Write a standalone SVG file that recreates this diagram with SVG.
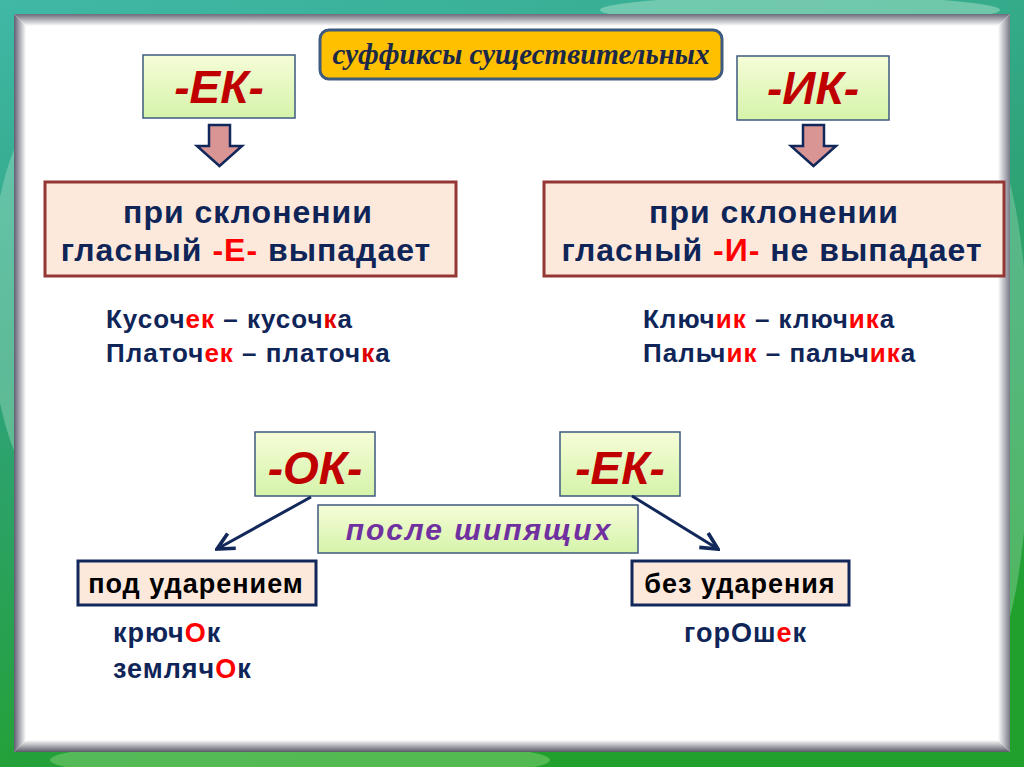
<svg xmlns="http://www.w3.org/2000/svg" width="1024" height="767" viewBox="0 0 1024 767">
<defs>
<linearGradient id="bg" x1="0" y1="0" x2="0.3" y2="1">
<stop offset="0" stop-color="#3fb8a6"/>
<stop offset="0.45" stop-color="#2fa37a"/>
<stop offset="1" stop-color="#22a02e"/>
</linearGradient>
<linearGradient id="green" x1="0" y1="0" x2="0" y2="1">
<stop offset="0" stop-color="#f6fdd8"/>
<stop offset="1" stop-color="#d5f3aa"/>
</linearGradient>
<linearGradient id="fT" x1="0" y1="0" x2="0" y2="1"><stop offset="0" stop-color="#6a6a7a"/><stop offset="1" stop-color="#ffffff"/></linearGradient>
<linearGradient id="fL" x1="0" y1="0" x2="1" y2="0"><stop offset="0" stop-color="#5f5f72"/><stop offset="1" stop-color="#ffffff"/></linearGradient>
<linearGradient id="fR" x1="1" y1="0" x2="0" y2="0"><stop offset="0" stop-color="#7a7a88"/><stop offset="1" stop-color="#ffffff"/></linearGradient>
<linearGradient id="fB" x1="0" y1="1" x2="0" y2="0"><stop offset="0" stop-color="#5a5a68"/><stop offset="1" stop-color="#ffffff"/></linearGradient>
<marker id="ah" viewBox="0 0 20 20" refX="18" refY="10" markerWidth="7" markerHeight="7" orient="auto" markerUnits="strokeWidth">
<path d="M2,2 L18,10 L2,18" fill="none" stroke="#12275a" stroke-width="3.5"/>
</marker>
<style>
.tag{fill:url(#green);stroke:#3d5a80;stroke-width:1.5}
.tagt{font-family:"Liberation Sans",Arial,sans-serif;font-weight:bold;font-style:italic;font-size:46px;fill:#c00000;text-anchor:middle}
.rule{fill:#fce9dc;stroke:#943634;stroke-width:3}
.rulet{font-family:"Liberation Sans",Arial,sans-serif;font-weight:bold;font-size:32px;fill:#0f2558;text-anchor:middle;letter-spacing:1px}
.ex{font-family:"Liberation Sans",Arial,sans-serif;font-weight:bold;font-size:26px;fill:#0f2558;letter-spacing:1px}
.ex2{font-family:"Liberation Sans",Arial,sans-serif;font-weight:bold;font-size:27px;fill:#0f2558;letter-spacing:1px}
.red{fill:#ff0000}
.red2{fill:#e00000}
.lab{fill:#fce9dc;stroke:#12275a;stroke-width:3}
.labt{font-family:"Liberation Sans",Arial,sans-serif;font-weight:bold;font-size:27px;fill:#000000;text-anchor:middle;letter-spacing:1px}
.down{fill:#d99594;stroke:#12275a;stroke-width:2.5;stroke-linejoin:miter}
.conn{stroke:#12275a;stroke-width:3;fill:none;marker-end:url(#ah)}
</style>
</defs>
<rect x="0" y="0" width="1024" height="767" fill="url(#bg)"/>
<ellipse cx="60" cy="300" rx="70" ry="200" fill="#b8e8d0" opacity="0.35"/>
<ellipse cx="990" cy="400" rx="40" ry="250" fill="#a8e0c0" opacity="0.35"/>
<ellipse cx="300" cy="760" rx="250" ry="20" fill="#9ee08a" opacity="0.4"/>
<ellipse cx="800" cy="10" rx="200" ry="14" fill="#c8f0d8" opacity="0.4"/>
<g id="frame">
<rect x="14" y="14" width="996" height="738" fill="#ffffff"/>
<polygon points="14,14 1010,14 998,26 26,26" fill="url(#fT)"/>
<polygon points="14,14 26,26 26,740 14,752" fill="url(#fL)"/>
<polygon points="1010,14 1010,752 998,740 998,26" fill="url(#fR)"/>
<polygon points="14,752 26,740 998,740 1010,752" fill="url(#fB)"/>
</g>
<g id="title">
<rect x="320" y="30" width="402" height="49" rx="9" fill="#ffc000" stroke="#3d5a80" stroke-width="3"/>
<text x="521" y="64" font-family="Liberation Serif, Times New Roman, serif" font-weight="bold" font-style="italic" font-size="29" fill="#1b2848" text-anchor="middle">суффиксы существительных</text>
</g>
<g id="ek-top">
<rect class="tag" x="143" y="55" width="152" height="63"/>
<text class="tagt" x="219" y="103">-ЕК-</text>
</g>
<g id="ik-top">
<rect class="tag" x="737" y="56" width="152" height="64"/>
<text class="tagt" x="813" y="104">-ИК-</text>
</g>
<g id="arrow-left">
<polygon class="down" points="209,125 230,125 230,146 242,146 219.5,166 197,146 209,146"/>
</g>
<g id="arrow-right">
<polygon class="down" points="803,125 824,125 824,146 836,146 813.5,166 791,146 803,146"/>
</g>
<g id="rule-e">
<rect class="rule" x="45" y="182" width="411" height="94"/>
<text class="rulet" x="248" y="223">при склонении</text>
<text class="rulet" x="246" y="261">гласный <tspan class="red">-Е-</tspan> выпадает</text>
</g>
<g id="rule-i">
<rect class="rule" x="544" y="182" width="460" height="94"/>
<text class="rulet" x="774" y="223">при склонении</text>
<text class="rulet" x="772" y="261">гласный <tspan class="red">-И-</tspan> не выпадает</text>
</g>
<g id="examples-ek">
<text class="ex" x="106" y="328">Кусоч<tspan class="red">ек</tspan> – кусоч<tspan class="red2">к</tspan>а</text>
<text class="ex" x="106" y="362">Платоч<tspan class="red">ек</tspan> – платоч<tspan class="red2">к</tspan>а</text>
</g>
<g id="examples-ik">
<text class="ex" x="643" y="328">Ключ<tspan class="red">ик</tspan> – ключ<tspan class="red">ик</tspan>а</text>
<text class="ex" x="643" y="362">Пальч<tspan class="red">ик</tspan> – пальч<tspan class="red">ик</tspan>а</text>
</g>
<g id="ok">
<rect class="tag" x="255" y="432" width="120" height="64"/>
<text class="tagt" x="315" y="484">-ОК-</text>
</g>
<g id="ek-bottom">
<rect class="tag" x="560" y="432" width="120" height="64"/>
<text class="tagt" x="620" y="484">-ЕК-</text>
</g>
<g id="posle">
<rect class="tag" x="318" y="505" width="320" height="48"/>
<text x="479" y="540" font-family="Liberation Sans, Arial, sans-serif" font-weight="bold" font-style="italic" font-size="30" fill="#7030a0" text-anchor="middle" letter-spacing="2">после шипящих</text>
</g>
<g id="connectors">
<line class="conn" x1="311" y1="497" x2="217" y2="549"/>
<line class="conn" x1="632" y1="496" x2="718" y2="549"/>
</g>
<g id="pod">
<rect class="lab" x="78" y="561" width="238" height="44"/>
<text class="labt" x="196" y="593">под ударением</text>
</g>
<g id="bez">
<rect class="lab" x="632" y="561" width="217" height="44"/>
<text class="labt" x="740" y="593">без ударения</text>
</g>
<g id="examples-ok">
<text class="ex2" x="113" y="642">крюч<tspan class="red">О</tspan>к</text>
<text class="ex2" x="113" y="678">земляч<tspan class="red">О</tspan>к</text>
</g>
<g id="examples-ek2">
<text class="ex2" x="684" y="642">горОш<tspan class="red">е</tspan>к</text>
</g>
</svg>
